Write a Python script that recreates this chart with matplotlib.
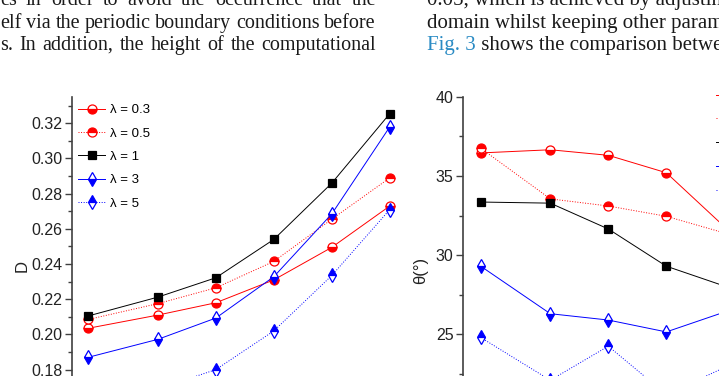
import matplotlib
matplotlib.use('Agg')
import matplotlib.pyplot as plt
from matplotlib.ticker import MultipleLocator, FormatStrFormatter

W, H = 719, 376

# x positions shared by both panels
x_vals = [0.0, 1.2, 2.2, 3.2, 4.2, 5.2]
lam_labels = ['λ = 0.3', 'λ = 0.5', 'λ = 1', 'λ = 3', 'λ = 5']

# left panel: D
d_03 = [0.2035, 0.2110, 0.2180, 0.2310, 0.2495, 0.2730]
d_05 = [0.2085, 0.2175, 0.2265, 0.2415, 0.2655, 0.2890]
d_1 = [0.2105, 0.2212, 0.2322, 0.2540, 0.2860, 0.3255]
d_3 = [0.1870, 0.1972, 0.2093, 0.2328, 0.2685, 0.3180]
d_5 = [0.1620, 0.1690, 0.1800, 0.2020, 0.2335, 0.2710]

# right panel: theta (degrees)
th_03 = [36.45, 36.65, 36.30, 35.20, 31.80, 30.50]
th_05 = [36.75, 33.55, 33.10, 32.45, 31.40, 30.00]
th_1 = [33.35, 33.28, 31.65, 29.30, 28.05, 27.00]
th_3 = [29.30, 26.30, 25.90, 25.15, 26.40, 27.50]
th_5 = [24.80, 22.10, 24.25, 21.20, 22.90, 23.50]

# body text around the figure
left_lines = ["es in order to avoid the occurrence that the",
              "elf via the periodic boundary conditions before",
              "s. In addition, the height of the computational"]
right_lines = ["0.05, which is achieved by adjusting the",
               "domain whilst keeping other parameters",
               "Fig. 3"]
fig_ref_rest = " shows the comparison between"

styles = [
    dict(color='red', ls='-', marker='o', fillstyle='bottom'),
    dict(color='red', ls=':', marker='o', fillstyle='top'),
    dict(color='black', ls='-', marker='s', fillstyle='full'),
    dict(color='blue', ls='-', marker='d', fillstyle='bottom'),
    dict(color='blue', ls=':', marker='d', fillstyle='top'),
]
msizes = {'o': 6.5, 's': 5.5, 'd': 7.2}

plt.rcParams['font.family'] = ['Liberation Sans', 'DejaVu Sans']

fig = plt.figure(figsize=(W / 100, H / 100), dpi=100)

ax1 = fig.add_axes([72 / W, (H - 440) / H, 335.2 / W, 343.1 / H])
ax2 = fig.add_axes([463.3 / W, (H - 492.7) / H, 336.4 / W, 396 / H])


def draw_series(ax, series):
    lines = []
    for ys, st, lab in zip(series, styles, lam_labels):
        line, = ax.plot(x_vals, ys, color=st['color'], ls=st['ls'], lw=0.7,
                        marker=st['marker'], ms=msizes[st['marker']],
                        fillstyle=st['fillstyle'], markerfacecoloralt='white',
                        markeredgecolor=st['color'], mew=0.9,
                        label=lab, clip_on=False)
        lines.append(line)
    return lines


def style_axes(ax):
    for side in ['top', 'right', 'bottom']:
        ax.spines[side].set_visible(False)
    ax.spines['left'].set_color('#404040')
    ax.spines['left'].set_linewidth(1.2)
    ax.tick_params(axis='y', which='major', direction='out', length=5,
                   width=1, color='#404040', labelsize=11.5, pad=2,
                   labelcolor='#222222')
    ax.tick_params(axis='y', which='minor', direction='out', length=3,
                   width=1, color='#404040')
    ax.set_xticks([])


lines1 = draw_series(ax1, [d_03, d_05, d_1, d_3, d_5])
ax1.set_xlim(-0.28, 5.5)
ax1.set_ylim(0.14, 0.335)
ax1.yaxis.set_major_locator(MultipleLocator(0.02))
ax1.yaxis.set_minor_locator(MultipleLocator(0.01))
ax1.yaxis.set_major_formatter(FormatStrFormatter('%.2f'))
style_axes(ax1)
ax1.set_ylabel('D', fontsize=12, color='#222222')
ax1.yaxis.set_label_coords(-0.125, 0.507)

lines2 = draw_series(ax2, [th_03, th_05, th_1, th_3, th_5])
ax2.set_xlim(-0.3, 5.5)
ax2.set_ylim(15, 40)
ax2.yaxis.set_major_locator(MultipleLocator(5))
ax2.yaxis.set_minor_locator(MultipleLocator(2.5))
style_axes(ax2)
ax2.set_ylabel('θ(°)', fontsize=12, color='#222222')
ax2.yaxis.set_label_coords(-0.105, 0.562)

leg_kw = dict(loc='upper left', frameon=False, fontsize=9.5, borderpad=0,
              borderaxespad=0, handlelength=2.05, handletextpad=0.4)
ax1.legend(handles=lines1, bbox_to_anchor=(78 / W, 1 - 104 / H),
           bbox_transform=fig.transFigure, labelspacing=0.84, **leg_kw)
ax2.legend(handles=lines2, bbox_to_anchor=(716 / W, 1 - 90 / H),
           bbox_transform=fig.transFigure, labelspacing=0.88, **leg_kw)

# surrounding page text
serif = ['Liberation Serif', 'DejaVu Serif']
baselines = [5, 28, 50]
renderer = fig.canvas.get_renderer()

# left column is justified between x=0 and x=376
for s, yb in zip(left_lines, baselines):
    words = s.split(' ')
    arts = [fig.text(0, 1 - yb / H, w, ha='left', va='baseline',
                     fontsize=14.5, family=serif, color='#1a1a1a')
            for w in words]
    widths = [a.get_window_extent(renderer).width for a in arts]
    gap = (376 - sum(widths)) / (len(words) - 1)
    xpos = 0.0
    for a, wd in zip(arts, widths):
        a.set_x(xpos / W)
        xpos += wd + gap

for s, yb in zip(right_lines, baselines):
    col = '#2a8bc4' if s.startswith('Fig.') else '#1a1a1a'
    t = fig.text(427 / W, 1 - yb / H, s, ha='left', va='baseline',
                 fontsize=15, family=serif, color=col)
ax1.annotate(fig_ref_rest, xy=(1, 0), xycoords=t, va='bottom', ha='left',
             annotation_clip=False, fontsize=15, family=serif,
             color='#1a1a1a')

fig.savefig('out.png', dpi=100)
